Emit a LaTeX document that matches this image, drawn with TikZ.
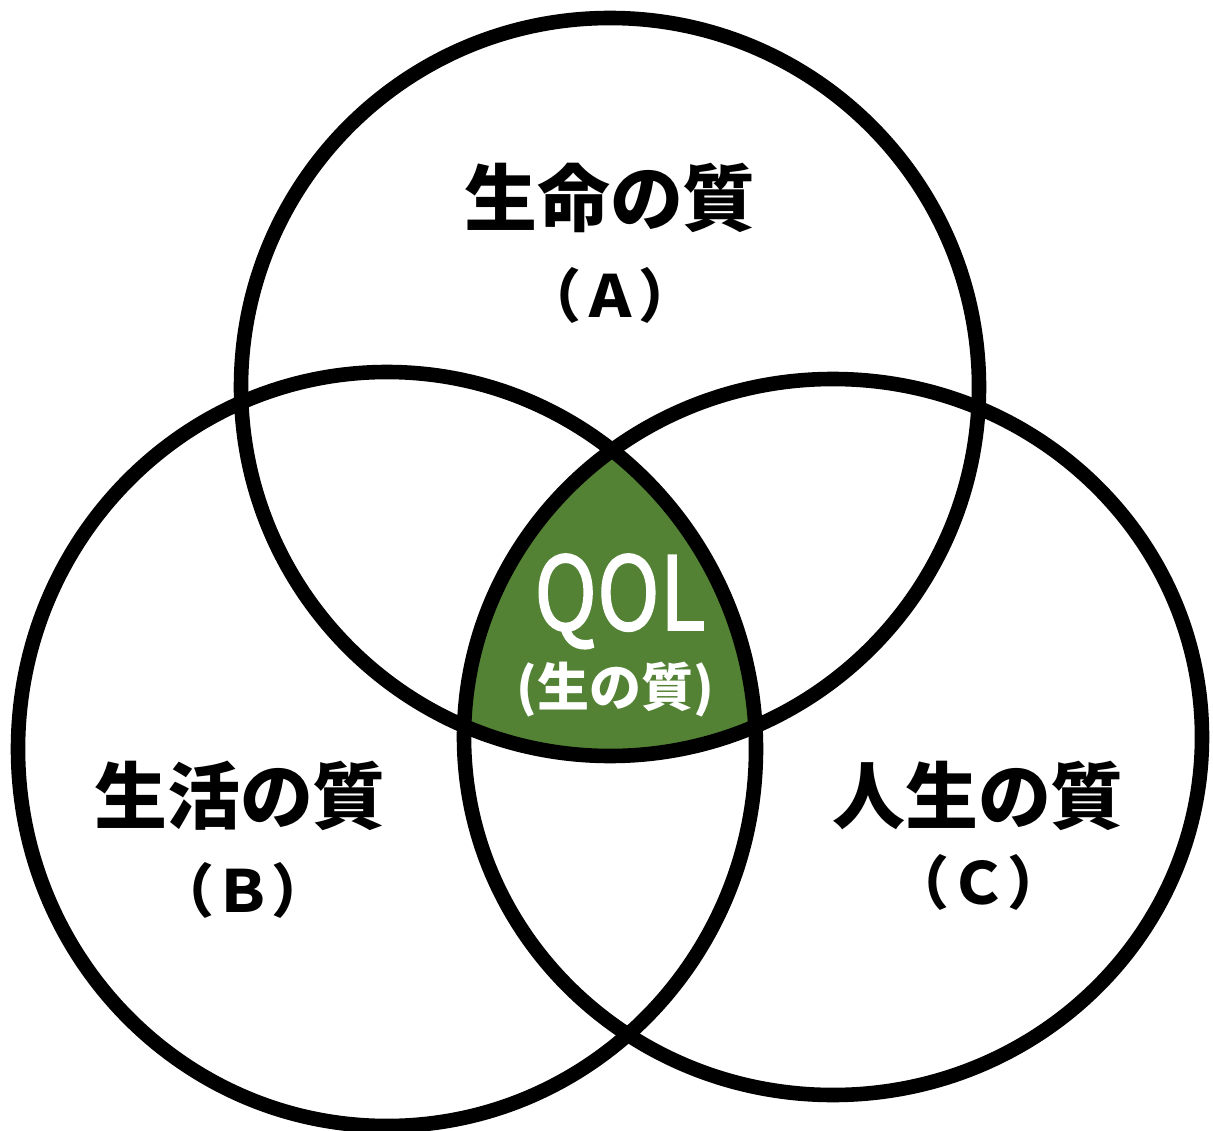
\documentclass[tikz,border=0pt]{standalone}
\usepackage{fontspec}
\usepackage{graphicx}
\newfontfamily\jpfont{Noto Sans CJK JP}
\newfontfamily\qolfont[FakeBold=1.6]{Noto Sans CJK JP}
\definecolor{qolgreen}{RGB}{84,130,53}

\begin{document}
\begin{tikzpicture}[
    x=0.02cm, y=-0.02cm,
    ring/.style={draw=black, line width=8.3pt},
    head/.style={font=\jpfont\bfseries\fontsize{41.5}{48}\selectfont, inner sep=0pt},
    sub/.style={font=\jpfont\bfseries\fontsize{33}{40}\selectfont, inner sep=0pt},
    qoltext/.style={font=\qolfont\fontsize{58}{64}\selectfont, text=white, inner sep=0pt},
    qolsub/.style={font=\jpfont\bfseries\fontsize{29.6}{34}\selectfont, text=white, inner sep=0pt}
]
\useasboundingbox (0,0) rectangle (1213,1131);

% Overlap of all three
\begin{scope}
  \clip (610,387) circle [radius=369];
  \clip (387,749) ellipse [x radius=369, y radius=377];
  \fill[qolgreen] (833,737) ellipse [x radius=369, y radius=358];
\end{scope}

% Circles
\draw[ring] (610,387) circle [radius=369];
\draw[ring] (387,749) ellipse [x radius=369, y radius=377];
\draw[ring] (833,737) ellipse [x radius=369, y radius=358];

% Labels
\node[head] (lifeA) at (610,198) {生命の質};
\node[sub] (lifeAsub) at (610,295) {（Ａ）};
\node[head] (livingB) at (240,796) {生活の質};
\node[sub] (livingBsub) at (243,890) {（Ｂ）};
\node[head] (courseC) at (978,796) {人生の質};
\node[sub] (courseCsub) at (978,882) {（Ｃ）};

% QOL
\node[qoltext, anchor=base] (qol) at (620,630) {\scalebox{0.83}[1]{QOL}};
\node[qolsub] (qolsub) at (615,690) {(生の質)};

\end{tikzpicture}
\end{document}
